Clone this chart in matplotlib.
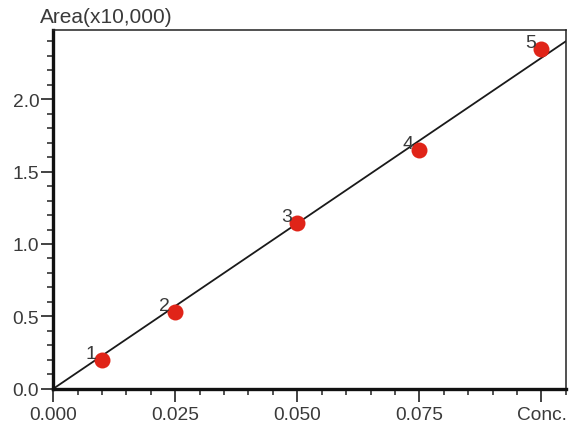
import numpy as np
import matplotlib
matplotlib.use("Agg")
import matplotlib.pyplot as plt
from matplotlib.ticker import MultipleLocator, FixedLocator

plt.rcParams['font.family'] = ['Liberation Sans', 'DejaVu Sans']

conc = [0.01, 0.025, 0.05, 0.075, 0.1]
area = [0.2, 0.53, 1.145, 1.65, 2.345]
point_labels = ["1", "2", "3", "4", "5"]
x_ticks = [0.0, 0.025, 0.05, 0.075, 0.1]
x_tick_labels = ["0.000", "0.025", "0.050", "0.075", "Conc."]
y_ticks = [0.0, 0.5, 1.0, 1.5, 2.0]
y_tick_labels = ["0.0", "0.5", "1.0", "1.5", "2.0"]

x = np.array(conc)
y = np.array(area)
slope = np.sum(x * y) / np.sum(x * x)

fig = plt.figure(figsize=(5.71, 4.27), dpi=100)
ax = fig.add_axes([0.093, 0.087, 0.898, 0.840])

xmax, ymax = 0.105, 2.476
ax.set_xlim(0, xmax)
ax.set_ylim(0, ymax)

xl = np.array([0, xmax])
ax.plot(xl, slope * xl, color='#1a1a1a', lw=1.3, zorder=2)
ax.plot(conc, area, 'o', color='#e02418', ms=11.5, mec='none', zorder=3)
for cx, cy, lab in zip(conc, area, point_labels):
    ax.annotate(lab, (cx, cy), xytext=(-4, -1.5), textcoords='offset points',
                ha='right', va='bottom', fontsize=14, color='#3a3a3a', zorder=4)

ax.xaxis.set_major_locator(FixedLocator(x_ticks))
ax.set_xticklabels(x_tick_labels)
ax.xaxis.set_minor_locator(MultipleLocator(0.005))
ax.yaxis.set_major_locator(FixedLocator(y_ticks))
ax.set_yticklabels(y_tick_labels)
ax.yaxis.set_minor_locator(MultipleLocator(0.1))

ax.tick_params(which='major', direction='out', length=9, width=1.2, pad=1,
               labelsize=13.8, labelcolor='#3a3a3a', color='#222222')
ax.tick_params(axis='x', which='major', pad=3)
ax.tick_params(which='minor', direction='out', length=4.5, width=1.2, color='#333333')

for s in ['left', 'bottom']:
    ax.spines[s].set_linewidth(2.4)
    ax.spines[s].set_color('#111111')
for s in ['top', 'right']:
    ax.spines[s].set_linewidth(1.1)
    ax.spines[s].set_color('#222222')

fig.text(0.07, 0.958, "Area(x10,000)", fontsize=15, color='#3a3a3a',
         ha='left', va='center')

fig.savefig("out.png", dpi=100)
